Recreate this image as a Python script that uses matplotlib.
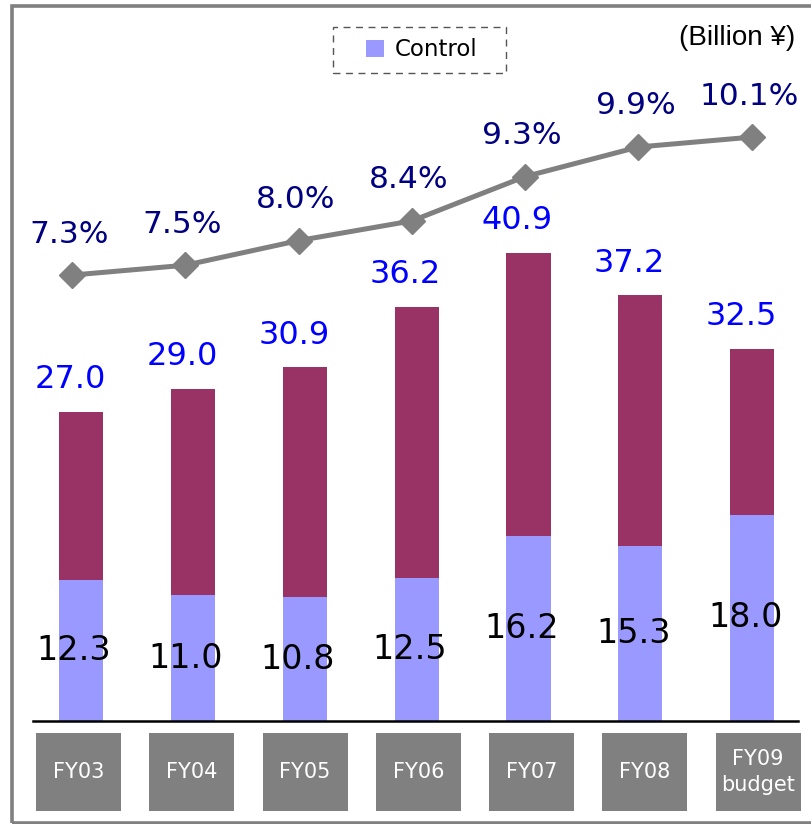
import matplotlib
matplotlib.use("Agg")
import matplotlib.pyplot as plt
from matplotlib.patches import Rectangle, Patch
from matplotlib import transforms
import numpy as np

categories = ["FY03", "FY04", "FY05", "FY06", "FY07", "FY08", "FY09\nbudget"]
control = [12.3, 11.0, 10.8, 12.5, 16.2, 15.3, 18.0]
totals = [27.0, 29.0, 30.9, 36.2, 40.9, 37.2, 32.5]
ratio = [7.3, 7.5, 8.0, 8.4, 9.3, 9.9, 10.1]
other = [t - c for t, c in zip(totals, control)]

C_LOW = "#9999FF"
C_UP = "#993366"
C_GRAY = "#808080"

W, H = 811, 824
fig = plt.figure(figsize=(W / 100, H / 100), dpi=100)

# figure border
fig.patches.append(Rectangle((11.5 / W, 1 - 823 / H), 1.2, (823 - 6) / H,
                             transform=fig.transFigure, fill=False,
                             edgecolor=C_GRAY, linewidth=2.6))

rect = [33 / W, (H - 721) / H, (798 - 33) / W, (721 - 10) / H]
ax = fig.add_axes(rect)
x = np.arange(len(categories))
ax.bar(x, control, width=0.395, color=C_LOW, label="Control", zorder=2)
ax.bar(x, other, bottom=control, width=0.395, color=C_UP, zorder=2)
ax.set_xlim(-0.43, 6.41)
ax.set_ylim(0, 62.1)
for s in ["top", "left", "right"]:
    ax.spines[s].set_visible(False)
ax.spines["bottom"].set_linewidth(1.8)
ax.spines["bottom"].set_color("black")
ax.set_xticks([])
ax.set_yticks([])

for i in range(len(categories)):
    ax.annotate(f"{totals[i]:.1f}", (x[i], totals[i]), xytext=(-11, 32),
                textcoords="offset pixels", ha="center", va="center",
                fontsize=23, color="#0000FF")
    ax.annotate(f"{control[i]:.1f}", (x[i], control[i] / 2), xytext=(-7, 0),
                textcoords="offset pixels", ha="center", va="center",
                fontsize=24, color="black")

# overlay axes for ratio line and category boxes
ax2 = fig.add_axes(rect, facecolor="none")
ax2.set_xlim(-0.344, 6.408)
ax2.set_ylim(-1.75, 12.68)
ax2.axis("off")
ax2.plot(x, ratio, color=C_GRAY, linewidth=3.6, marker="D", markersize=13,
         markerfacecolor=C_GRAY, markeredgecolor=C_GRAY, zorder=3)
for i in range(len(categories)):
    ax2.annotate(f"{ratio[i]:.1f}%", (x[i], ratio[i]), xytext=(-3, 41),
                 textcoords="offset pixels", ha="center", va="center",
                 fontsize=22.5, color="#000080")

# category boxes
trans = transforms.blended_transform_factory(ax2.transData, fig.transFigure)
bw = 85 / 113.3
for i, lab in enumerate(categories):
    cx = x[i] + 0.057
    ax2.add_patch(Rectangle((cx - bw / 2, 1 - 811 / H), bw, 78 / H,
                            transform=trans, facecolor=C_GRAY, edgecolor="none",
                            clip_on=False))
    ax2.text(cx, 1 - 772 / H, lab, transform=trans, ha="center", va="center",
             color="white", fontsize=15, linespacing=1.35, clip_on=False)

# legend with dashed frame
fig.patches.append(Rectangle((333 / W, 1 - 73 / H), (506 - 333) / W, 46 / H,
                             transform=fig.transFigure, fill=False,
                             edgecolor="#555555", linewidth=1.0,
                             linestyle=(0, (5, 4))))
leg = fig.legend(handles=[Patch(facecolor=C_LOW, label="Control")],
                 loc="center", bbox_to_anchor=(422 / W, 1 - 50 / H),
                 fontsize=16.5, frameon=False, handlelength=0.75,
                 handleheight=0.75, handletextpad=0.5, borderpad=0.3,
                 borderaxespad=0)

fig.text(737 / W, 1 - 38 / H, "(Billion ¥)", ha="center", va="center",
         fontsize=20, family="Liberation Sans", color="black")

fig.savefig("out.png", dpi=100)
